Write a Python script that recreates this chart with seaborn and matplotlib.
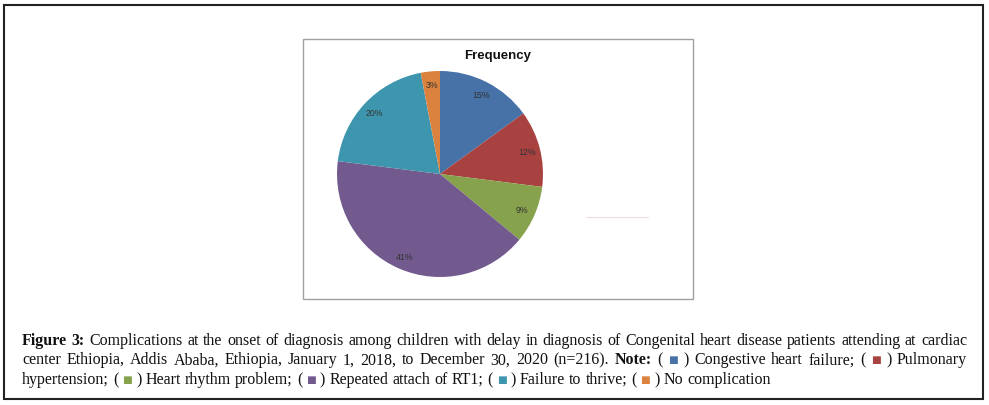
import numpy as np
import matplotlib
matplotlib.use("Agg")
import matplotlib.pyplot as plt
import seaborn as sns
from matplotlib.patches import Rectangle

# data
categories = ["Congestive heart failure", "Pulmonary hypertension", "Heart rhythm problem",
              "Repeated attach of RT1", "Failure to thrive", "No complication"]
percent = [15, 12, 9, 41, 20, 3]
colors = ["#4672A8", "#A84240", "#87A24D", "#725A8F", "#3E96AE", "#DA823E"]
title = "Frequency"

sns.set_theme(style="white")
plt.rcParams['font.family'] = ['Liberation Serif', 'DejaVu Sans']

W, H = 989, 406
fig = plt.figure(figsize=(W / 100, H / 100), dpi=100)


def fx(x):
    return x / W


def fy(y):
    return 1 - y / H


# outer box and chart box
fig.patches.append(Rectangle((fx(4), fy(400)), fx(983) - fx(4), fy(6) - fy(400),
                             transform=fig.transFigure, fill=False, edgecolor="#222222", lw=1.5))
fig.patches.append(Rectangle((fx(303), fy(300)), fx(693) - fx(303), fy(40) - fy(300),
                             transform=fig.transFigure, fill=False, edgecolor="#a0a0a0", lw=1))

# pie
ax = fig.add_axes([fx(337), fy(278), fx(543) - fx(337), fy(72) - fy(278)])
wedges, texts, autotexts = ax.pie(percent, colors=colors, startangle=90, counterclock=False,
                                  autopct='%1.0f%%', pctdistance=0.87,
                                  wedgeprops=dict(linewidth=0),
                                  textprops=dict(fontsize=6.3, color="#333333", family="Liberation Sans"))
ax.set_xlim(-1, 1)
ax.set_ylim(-1, 1)
ax.set_aspect('equal')
ax.axis('off')

fig.text(fx(498), fy(56), title, ha='center', va='center', fontsize=9.5, fontweight='bold',
         family="Liberation Sans", color="#111111")

# faint leftover line at right of pie
fig.add_artist(plt.Line2D([fx(586), fx(648)], [fy(218), fy(218)], transform=fig.transFigure,
                          color="#eedede", lw=0.8))

# caption, justified lines
FS = 11.5
SQ = 7.5
lines = [
    ([("Figure", "b"), ("3:", "b")] +
     [(w, "n") for w in "Complications at the onset of diagnosis among children with delay in diagnosis of Congenital heart disease patients attending at cardiac".split()],
     True),
    ([(w, "n") for w in "center Ethiopia, Addis Ababa, Ethiopia, January 1, 2018, to December 30, 2020 (n=216).".split()] +
     [("Note:", "b"), ("(", "n"), ("\u25a0", 0), (")", "n")] +
     [(w, "n") for w in "Congestive heart failure;".split()] +
     [("(", "n"), ("\u25a0", 1), (")", "n"), ("Pulmonary", "n")],
     True),
    ([("hypertension;", "n"), ("(", "n"), ("\u25a0", 2), (")", "n")] +
     [(w, "n") for w in "Heart rhythm problem;".split()] +
     [("(", "n"), ("\u25a0", 3), (")", "n")] +
     [(w, "n") for w in "Repeated attach of RT1;".split()] +
     [("(", "n"), ("\u25a0", 4), (")", "n")] +
     [(w, "n") for w in "Failure to thrive;".split()] +
     [("(", "n"), ("\u25a0", 5), (")", "n")] +
     [(w, "n") for w in "No complication".split()],
     False),
]
baselines = [345, 364.5, 384]
x0, x1 = 22, 967

renderer = fig.canvas.get_renderer()


def style_kw(st):
    if st == "b":
        return dict(fontsize=FS, fontweight='bold', color="#111111")
    if st == "n":
        return dict(fontsize=FS, color="#111111")
    return dict(fontsize=SQ, color=colors[st], family=['DejaVu Sans'])


def measure(word, st):
    t = fig.text(0, 0, word, **style_kw(st))
    w = t.get_window_extent(renderer).width
    t.remove()
    return w


space = measure("x x", "n") - measure("xx", "n")

for (words, justify), base in zip(lines, baselines):
    widths = [measure(w, st) for w, st in words]
    gap = space
    if justify:
        gap = (x1 - x0 - sum(widths)) / (len(words) - 1)
    x = x0
    for (w, st), wd in zip(words, widths):
        yb = base - (1 if st not in ("n", "b") else 0)
        fig.text(fx(x), fy(yb), w, ha='left', va='baseline', **style_kw(st))
        x += wd + gap

fig.savefig("out.png", dpi=100, facecolor="white")
